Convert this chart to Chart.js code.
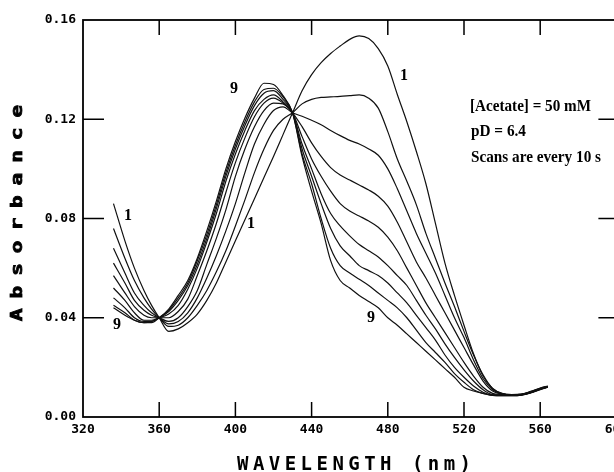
<!DOCTYPE html>
<html lang="en">
<head>
<meta charset="UTF-8">
<title>Absorbance spectra</title>
<script src="https://cdn.jsdelivr.net/npm/chart.js"></script>
<style>
  body { margin: 0; background: white; overflow: hidden; }
</style>
</head>
<body>
<canvas id="spectraChart" width="622" height="472"></canvas>
<script>
// wavelength (nm) shared by all scans
const wavelengths = [336,342,347,352,356,360,365,370,375,380,385,390,395,400,405,410,415,420,425,430,
  435,440,445,450,455,460,465,470,475,480,485,490,495,500,505,510,515,520,525,530,535,540,545,550,555,560,564];

const scan1 = [0.086,0.071,0.060,0.051,0.045,
  0.040,0.0345,0.0355,0.038,0.0415,0.047,0.054,0.0625,0.071,0.0795,0.088,0.0965,0.105,0.1138,0.1226,
  0.1315,0.138,0.1428,0.1465,0.1495,0.1522,0.1536,0.1525,0.1485,0.1415,0.130,0.119,0.107,0.094,0.078,0.062,0.049,0.037,0.0255,0.0165,0.0115,0.0095,0.009,0.0092,0.0103,0.0117,
  0.0125];
const scan2 = [0.076,0.064,0.055,0.048,0.0435,
  0.040,0.0365,0.037,0.040,0.045,0.051,0.0585,0.067,0.077,0.0875,0.0985,0.108,0.1155,0.120,0.1226,
  0.1262,0.128,0.1288,0.129,0.1292,0.1295,0.1298,0.1285,0.1245,0.115,0.104,0.095,0.0855,0.074,0.064,0.054,0.0445,0.0345,0.025,0.017,0.0115,0.0094,0.009,0.0091,0.0102,0.0116,
  0.0124];
const scan3 = [0.068,0.058,0.050,0.045,0.042,
  0.040,0.0375,0.0385,0.042,0.048,0.056,0.065,0.075,0.086,0.0985,0.110,0.118,0.1235,0.125,0.1226,
  0.1212,0.1196,0.1178,0.1155,0.1134,0.1115,0.110,0.108,0.1055,0.100,0.092,0.083,0.074,0.066,0.058,0.049,0.040,0.032,0.023,0.0155,0.011,0.0093,0.0089,0.0091,0.0101,0.0115,
  0.0123];
const scan4 = [0.062,0.054,0.047,0.043,0.041,
  0.040,0.0385,0.040,0.0445,0.051,0.0615,0.072,0.0835,0.097,0.108,0.117,0.1235,0.1265,0.1262,0.1226,
  0.117,0.1105,0.105,0.1005,0.0975,0.0955,0.0935,0.0915,0.089,0.085,0.0785,0.0705,0.0625,0.056,0.049,0.042,0.035,0.028,0.021,0.0145,0.0105,0.0092,0.0089,0.009,0.010,0.0114,
  0.0122];
const scan5 = [0.057,0.050,0.0445,0.041,0.040,
  0.040,0.040,0.0425,0.0475,0.057,0.067,0.078,0.0905,0.1025,0.1125,0.121,0.1265,0.1285,0.1265,0.1226,
  0.113,0.104,0.097,0.091,0.086,0.083,0.081,0.079,0.0765,0.0725,0.067,0.060,0.053,0.046,0.040,0.034,0.028,0.022,0.0165,0.012,0.0095,0.009,0.0088,0.009,0.0099,0.0113,
  0.0122];
const scan6 = [0.052,0.047,0.042,0.039,0.039,
  0.040,0.0415,0.045,0.0515,0.060,0.0705,0.082,0.095,0.106,0.1155,0.1235,0.128,0.1298,0.127,0.1226,
  0.110,0.100,0.090,0.082,0.077,0.073,0.0695,0.067,0.0645,0.061,0.057,0.053,0.047,0.041,0.0355,0.0295,0.024,0.019,0.0145,0.011,0.009,0.0088,0.0087,0.0089,0.0099,0.0112,
  0.0121];
const scan7 = [0.048,0.044,0.040,0.0385,0.0385,
  0.040,0.0425,0.047,0.053,0.0615,0.072,0.084,0.097,0.108,0.1175,0.1255,0.1305,0.1315,0.128,0.1226,
  0.108,0.097,0.086,0.076,0.069,0.065,0.061,0.059,0.057,0.054,0.050,0.046,0.041,0.036,0.031,0.025,0.020,0.016,0.0125,0.010,0.0088,0.0087,0.0087,0.0089,0.0098,0.0112,
  0.0121];
const scan8 = [0.045,0.042,0.039,0.038,0.038,
  0.040,0.043,0.048,0.054,0.063,0.0735,0.0855,0.0985,0.1095,0.119,0.127,0.132,0.1325,0.129,0.1226,
  0.106,0.094,0.080,0.068,0.061,0.058,0.0555,0.053,0.050,0.047,0.044,0.040,0.035,0.030,0.026,0.022,0.0175,0.014,0.011,0.0095,0.0087,0.0086,0.0086,0.0088,0.0098,0.0111,
  0.012];
const scan9 = [0.044,0.041,0.039,0.038,0.0385,
  0.040,0.0435,0.049,0.055,0.064,0.075,0.087,0.100,0.111,0.1205,0.1285,0.1345,0.134,0.1295,0.1226,
  0.105,0.091,0.078,0.063,0.055,0.052,0.049,0.0465,0.044,0.040,0.037,0.0335,0.030,0.0265,0.023,0.0195,0.016,0.012,0.0105,0.0095,0.0087,0.0086,0.0086,0.0088,0.0097,0.011,
  0.012];

const scans = [scan1, scan2, scan3, scan4, scan5, scan6, scan7, scan8, scan9];

const xTicks = [320, 360, 400, 440, 480, 520, 560, 600];
const yTicks = [0, 0.04, 0.08, 0.12, 0.16];
const notes = ['[Acetate] = 50 mM', 'pD = 6.4', 'Scans are every 10 s'];

// scan number marks, placed in data units
const scanMarks = [
  { text: '1', x: 488.5, y: 0.1375 },
  { text: '9', x: 399.3, y: 0.1323 },
  { text: '1', x: 408.2, y: 0.078 },
  { text: '1', x: 343.6, y: 0.0812 },
  { text: '9', x: 337.8, y: 0.037 },
  { text: '9', x: 471.2, y: 0.0398 }
];

// frame, inward ticks and all text
const decorations = {
  id: 'decorations',
  afterDraw(chart) {
    const { ctx, chartArea: a } = chart;
    const x = chart.scales.x, y = chart.scales.y;
    ctx.save();
    ctx.strokeStyle = '#000';
    ctx.fillStyle = '#000';

    ctx.lineWidth = 1.8;
    ctx.strokeRect(a.left, a.top, a.right - a.left, a.bottom - a.top);

    ctx.lineWidth = 1.5;
    ctx.beginPath();
    xTicks.slice(1, -1).forEach(v => {
      const px = x.getPixelForValue(v);
      ctx.moveTo(px, a.bottom); ctx.lineTo(px, a.bottom - 15);
      ctx.moveTo(px, a.top); ctx.lineTo(px, a.top + 15);
    });
    yTicks.slice(1, -1).forEach(v => {
      const py = y.getPixelForValue(v);
      ctx.moveTo(a.left, py); ctx.lineTo(a.left + 21, py);
      ctx.moveTo(a.right, py); ctx.lineTo(a.right - 18, py);
    });
    ctx.stroke();

    // tick labels
    ctx.font = 'bold 13px "DejaVu Sans Mono"';
    ctx.textAlign = 'right';
    ctx.textBaseline = 'middle';
    yTicks.forEach(v => ctx.fillText(v.toFixed(2), a.left - 7, y.getPixelForValue(v)));
    ctx.textAlign = 'center';
    xTicks.forEach(v => ctx.fillText(String(v), x.getPixelForValue(v), a.bottom + 13));

    // x title, spaced letters
    ctx.font = 'bold 19px "DejaVu Sans Mono"';
    ctx.textBaseline = 'alphabetic';
    const xt = 'WAVELENGTH (nm)';
    const pitch = 15.9;
    const x0 = 354 - pitch * (xt.length - 1) / 2;
    for (let i = 0; i < xt.length; i++) ctx.fillText(xt[i], x0 + i * pitch, 470);

    // y title, rotated and spaced
    const yt = 'Absorbance';
    ctx.save();
    ctx.translate(22, 213);
    ctx.rotate(-Math.PI / 2);
    ctx.font = 'bold 15px "DejaVu Sans Mono"';
    ctx.lineWidth = 0.8;
    const yp = 22.6;
    for (let i = 0; i < yt.length; i++) {
      ctx.save();
      ctx.translate(-yp * (yt.length - 1) / 2 + i * yp, 0);
      ctx.scale(1.4, 1);
      ctx.fillText(yt[i], 0, 0);
      ctx.strokeText(yt[i], 0, 0);
      ctx.restore();
    }
    ctx.restore();

    // condition notes
    ctx.font = 'bold 16px "Liberation Serif"';
    ctx.textAlign = 'left';
    ctx.fillText(notes[0], 470, 111, 121);
    ctx.fillText(notes[1], 471, 136, 55);
    ctx.fillText(notes[2], 471, 162, 130);

    // scan numbers
    ctx.font = 'bold 16px "Liberation Serif"';
    ctx.textAlign = 'center';
    ctx.textBaseline = 'middle';
    scanMarks.forEach(m => ctx.fillText(m.text, x.getPixelForValue(m.x), y.getPixelForValue(m.y)));
    ctx.restore();
  }
};

const ctx = document.getElementById('spectraChart').getContext('2d');
const spectraChart = new Chart(ctx, {
  type: 'line',
  data: {
    datasets: scans.map((s, i) => ({
      label: 'Scan ' + (i + 1),
      data: wavelengths.map((w, j) => ({ x: w, y: s[j] })),
      borderColor: '#111',
      borderWidth: 1.2,
      pointRadius: 0,
      fill: false,
      cubicInterpolationMode: 'monotone'
    }))
  },
  options: {
    responsive: false,
    animation: false,
    layout: { padding: { left: 83, right: 5.6, top: 20, bottom: 55 } },
    plugins: { legend: { display: false }, tooltip: { enabled: false } },
    scales: {
      x: { type: 'linear', min: 320, max: 600, display: false },
      y: { type: 'linear', min: 0, max: 0.16, display: false }
    }
  },
  plugins: [decorations]
});
</script>
</body>
</html>
